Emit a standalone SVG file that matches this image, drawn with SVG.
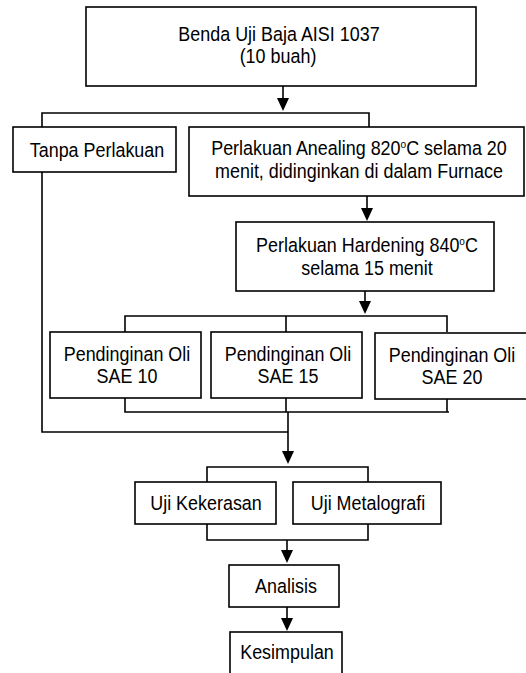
<svg xmlns="http://www.w3.org/2000/svg" width="526" height="673" viewBox="0 0 526 673">
<defs>
<style>
.box{fill:#fff;stroke:#000;stroke-width:1.6}
.ln{fill:none;stroke:#000;stroke-width:1.6}
text{font-family:"Liberation Sans",Arial,sans-serif;font-size:19.5px;fill:#000;text-anchor:middle}
.sup{font-size:11px}
</style>
</defs>
<rect width="526" height="673" fill="#fff"/>
<g id="connectors">
<path class="ln" d="M283,86 V98"/>
<path d="M277,98 L289,98 L283,111 Z"/>
<path class="ln" d="M42,127 V113 H369 V127"/>
<path class="ln" d="M42,172 V432 H288"/>
<path class="ln" d="M367,196 V208"/>
<path d="M361,208 L373,208 L367,221 Z"/>
<path class="ln" d="M365,291 V301"/>
<path d="M359,301 L371,301 L365,314 Z"/>
<path class="ln" d="M125,332 V316 H447 V332 M286,316 V332"/>
<path class="ln" d="M125,398 V412 H449 M286,398 V412 M447,398 V412"/>
<path class="ln" d="M288,412 V452"/>
<path d="M282,451 L294,451 L288,464 Z"/>
<path class="ln" d="M207,482 V467 H368 V482"/>
<path class="ln" d="M207,524 V540 H368 V524"/>
<path class="ln" d="M287,540 V551"/>
<path d="M281,550 L293,550 L287,563 Z"/>
<path class="ln" d="M287,607 V618"/>
<path d="M281,618 L293,618 L287,631 Z"/>
</g>
<g id="n_benda">
<rect class="box" x="86" y="7" width="390" height="79"/>
<text transform="translate(279,41) scale(0.92,1)">Benda Uji Baja AISI 1037</text>
<text transform="translate(278,63) scale(0.92,1)">(10 buah)</text>
</g>
<g id="n_tanpa">
<rect class="box" x="13" y="127" width="163" height="45"/>
<text transform="translate(97,157) scale(0.92,1)">Tanpa Perlakuan</text>
</g>
<g id="n_anealing">
<rect class="box" x="189" y="127" width="335" height="69"/>
<text transform="translate(359,155) scale(0.92,1)">Perlakuan Anealing 820<tspan class="sup" dy="-7">o</tspan><tspan dy="7">C selama 20</tspan></text>
<text transform="translate(359,178) scale(0.92,1)">menit, didinginkan di dalam Furnace</text>
</g>
<g id="n_hardening">
<rect class="box" x="236" y="222" width="258" height="69"/>
<text transform="translate(367,252) scale(0.92,1)">Perlakuan Hardening 840<tspan class="sup" dy="-7">o</tspan><tspan dy="7">C</tspan></text>
<text transform="translate(367,275) scale(0.92,1)">selama 15 menit</text>
</g>
<g id="n_sae10">
<rect class="box" x="50" y="332" width="151" height="66"/>
<text transform="translate(127,361) scale(0.92,1)">Pendinginan Oli</text>
<text transform="translate(127,383) scale(0.92,1)">SAE 10</text>
</g>
<g id="n_sae15">
<rect class="box" x="211" y="332" width="151" height="66"/>
<text transform="translate(288,361) scale(0.92,1)">Pendinginan Oli</text>
<text transform="translate(288,383) scale(0.92,1)">SAE 15</text>
</g>
<g id="n_sae20">
<rect class="box" x="375" y="333" width="155" height="66"/>
<text transform="translate(452,362) scale(0.92,1)">Pendinginan Oli</text>
<text transform="translate(452,384) scale(0.92,1)">SAE 20</text>
</g>
<g id="n_kekerasan">
<rect class="box" x="135" y="482" width="141" height="42"/>
<text transform="translate(206,510) scale(0.92,1)">Uji Kekerasan</text>
</g>
<g id="n_metalografi">
<rect class="box" x="293" y="482" width="148" height="42"/>
<text transform="translate(368,510) scale(0.92,1)">Uji Metalografi</text>
</g>
<g id="n_analisis">
<rect class="box" x="229" y="565" width="110" height="42"/>
<text transform="translate(286,593) scale(0.92,1)">Analisis</text>
</g>
<g id="n_kesimpulan">
<rect class="box" x="230" y="632" width="112" height="50"/>
<text transform="translate(287,659) scale(0.92,1)">Kesimpulan</text>
</g>
</svg>
